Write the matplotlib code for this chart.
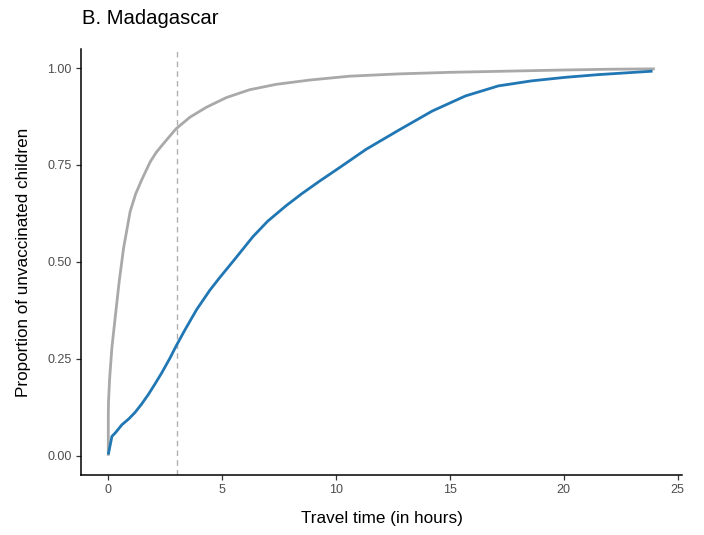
import matplotlib
matplotlib.use("Agg")
import matplotlib.pyplot as plt

# Data
gray_x = [0.0, 0.0, 0.01, 0.06, 0.16, 0.31, 0.48, 0.67, 0.96, 1.2, 1.47, 1.84, 2.1, 2.42, 2.97,
          3.58, 4.31, 5.19, 6.2, 7.37, 8.83, 10.58, 12.76, 15.0, 17.5, 20.0, 22.0, 24.0]
gray_y = [0.0, 0.10, 0.14, 0.20, 0.28, 0.36, 0.45, 0.535, 0.63, 0.675, 0.712, 0.758, 0.782, 0.805, 0.843,
          0.873, 0.899, 0.924, 0.944, 0.958, 0.969, 0.979, 0.985, 0.989, 0.992, 0.995, 0.997, 0.998]

blue_x = [0.0, 0.16, 0.31, 0.6, 0.9, 1.18, 1.46, 1.76, 2.05, 2.35, 2.71, 2.97, 3.37, 3.88, 4.46, 4.90, 5.5, 6.35, 7.0,
          7.81, 8.5, 9.27, 10.2, 11.31, 12.76, 14.22, 15.68, 17.13, 18.59, 20.05, 21.5, 23.9]
blue_y = [0.003, 0.05, 0.059, 0.08, 0.095, 0.112, 0.133, 0.158, 0.185, 0.214, 0.252, 0.282, 0.325, 0.377, 0.427, 0.460, 0.503,
          0.565, 0.605, 0.645, 0.676, 0.708, 0.745, 0.790, 0.840, 0.889, 0.928, 0.954, 0.967, 0.976, 0.983, 0.992]

vline_x = 3
x_ticks = [0, 5, 10, 15, 20, 25]
y_ticks = [0.0, 0.25, 0.50, 0.75, 1.00]
y_ticklabels = ["0.00", "0.25", "0.50", "0.75", "1.00"]

plt.rcParams['font.family'] = ['Liberation Sans', 'DejaVu Sans']

fig = plt.figure(figsize=(7.04, 5.35), dpi=100)
ax = fig.add_axes([0.115, 0.112, 0.854, 0.797])

ax.plot(gray_x, gray_y, color="#a9a9a9", lw=2.0, solid_capstyle="butt",
        solid_joinstyle="round", zorder=2)
ax.plot(blue_x, blue_y, color="#2077b4", lw=2.0, solid_capstyle="butt",
        solid_joinstyle="round", zorder=3)
ax.axvline(vline_x, color="#b0b0b0", lw=1.0, ls=(0, (4, 3)), zorder=1)

ax.set_xlim(-1.2, 25.2)
ax.set_ylim(-0.05, 1.05)
ax.set_xticks(x_ticks)
ax.set_yticks(y_ticks)
ax.set_yticklabels(y_ticklabels)

for s in ["top", "right"]:
    ax.spines[s].set_visible(False)
for s in ["left", "bottom"]:
    ax.spines[s].set_linewidth(1.1)
    ax.spines[s].set_color("black")

ax.tick_params(axis="both", length=3.5, width=0.9, color="#333333",
               labelcolor="#4d4d4d", labelsize=9, pad=3)

ax.set_xlabel("Travel time (in hours)", fontsize=12.3, color="black", labelpad=11)
ax.set_ylabel("Proportion of unvaccinated children", fontsize=12.3, color="black", labelpad=12)

fig.text(82/704, 1 - 18/535, "B. Madagascar", fontsize=14.6, ha="left", va="center", color="black")

fig.savefig("out.png", dpi=100)
